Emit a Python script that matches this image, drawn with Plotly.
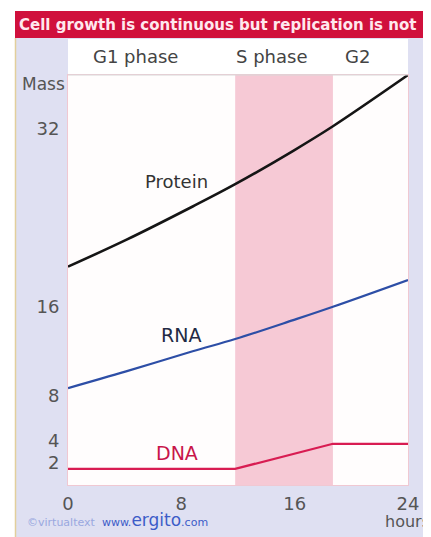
import plotly.graph_objects as go

# ---- data ----
hours = [0, 4.1, 8.8, 11.8, 15.9, 18.7, 24]
protein = [19.6, 22.0, 25.0, 27.0, 30.0, 32.2, 36.8]
rna = [8.7, 10.2, 12.0, 13.1, 14.8, 16.0, 18.4]
dna_hours = [0, 11.8, 18.7, 24]
dna = [1.45, 1.45, 3.7, 3.7]
s_phase = [11.8, 18.7]
x_ticks = [0, 8, 16, 24]
y_ticks = [2, 4, 8, 16, 32]
phase_labels = ["G1 phase", "S phase", "G2"]
title = "Cell growth is continuous but replication is not"

# page has an 8px body margin: figure is sized so that window coords match
OFF = 8
W, H = 431 - OFF, 537 - OFF
L, R, T, B = 68, 408, 75, 485          # plot area in window pixels
pw, ph = R - L, B - T


def px(xp):
    return (xp - L) / pw


def py(yp):
    return (B - yp) / ph


FONT = "DejaVu Sans, Verdana, sans-serif"
LAV = "#dfe0f2"
RED = "#d0103c"

fig = go.Figure()

fig.add_trace(go.Scatter(x=hours, y=protein, mode="lines",
                         line=dict(color="#151515", width=2.6, shape="spline", smoothing=1.0),
                         showlegend=False, hoverinfo="skip"))
fig.add_trace(go.Scatter(x=hours, y=rna, mode="lines",
                         line=dict(color="#2d4ea6", width=2.2, shape="spline", smoothing=1.0),
                         showlegend=False, hoverinfo="skip"))
fig.add_trace(go.Scatter(x=dna_hours, y=dna, mode="lines", line=dict(color="#d81c52", width=2.2),
                         showlegend=False, hoverinfo="skip"))

shapes = [
    dict(type="rect", xref="paper", yref="paper", x0=px(15), x1=px(440), y0=py(545), y1=py(38),
         fillcolor=LAV, line=dict(width=0), layer="below"),
    dict(type="line", xref="paper", yref="paper", x0=px(15.5), x1=px(15.5), y0=py(545), y1=py(38),
         line=dict(color="#e2cf9c", width=1.5), layer="below"),
    dict(type="rect", xref="paper", yref="paper", x0=px(15), x1=px(440), y0=py(38), y1=py(11),
         fillcolor=RED, line=dict(width=0), layer="below"),
    dict(type="rect", xref="paper", yref="paper", x0=0, x1=1, y0=1, y1=py(39),
         fillcolor="white", line=dict(width=0), layer="below"),
    dict(type="rect", xref="paper", yref="paper", x0=0, x1=1, y0=0, y1=1,
         fillcolor="#fffdfd", line=dict(width=0), layer="below"),
    dict(type="rect", xref="x", yref="paper", x0=s_phase[0], x1=s_phase[1], y0=0, y1=1,
         fillcolor="#f6c9d5", line=dict(width=0), layer="below"),
    dict(type="line", xref="paper", yref="paper", x0=0, x1=1, y0=1, y1=1,
         line=dict(color="#d8d8d8", width=1)),
]


def label(text, x, y, size, color, xanchor="center", weight="normal"):
    return dict(text=text, xref="paper", yref="paper", x=px(x), y=py(y), xanchor=xanchor,
                yanchor="middle", showarrow=False,
                font=dict(family=FONT, size=size, color=color, weight=weight))


annotations = [
    label(title, 17, 25, 15, "#ffe8ee", xanchor="left", weight="bold"),
    label(phase_labels[0], 135, 57, 18, "#444"),
    label(phase_labels[1], 271, 57, 18, "#444"),
    label(phase_labels[2], 357, 57, 18, "#444"),
    label("Mass", 43, 84, 17, "#555"),
    label("hours", 383, 521, 16, "#555", xanchor="left"),
    label("Protein", 176, 181, 18, "#333"),
    label("RNA", 181, 335, 19, "#222a44"),
    label("DNA", 177, 453, 19, "#c8154a"),
    label("<span style='font-size:11px;color:#9aa8e0'>©virtualtext</span>"
          "<span style='font-size:11px;color:#3c5cc8'>  www.</span>"
          "<span style='font-size:17px;color:#3c5cc8'>ergito</span>"
          "<span style='font-size:11px;color:#3c5cc8'>.com</span>",
          25, 520, 11, "#3c5cc8", xanchor="left"),
]

fig.update_layout(
    width=W, height=H,
    margin=dict(l=L - OFF, r=W - (R - OFF), t=T - OFF, b=H - (B - OFF), pad=0),
    paper_bgcolor="white",
    plot_bgcolor="rgba(0,0,0,0)",
    shapes=shapes,
    annotations=annotations,
    xaxis=dict(range=[0, 24], tickvals=x_ticks, ticktext=[str(v) for v in x_ticks], showgrid=False,
               zeroline=False, showline=True, linecolor="#f0c8d2", linewidth=1, mirror=True, ticks="",
               ticklabelstandoff=2, tickfont=dict(family=FONT, size=18, color="#555")),
    yaxis=dict(range=[0, 36.8], tickvals=y_ticks, ticktext=[str(v) for v in y_ticks], showgrid=False,
               zeroline=False, showline=True, linecolor="#f0c8d2", linewidth=1, mirror=True, ticks="",
               ticklabelstandoff=4, tickfont=dict(family=FONT, size=18, color="#555")),
)

fig.write_html("out.html")
